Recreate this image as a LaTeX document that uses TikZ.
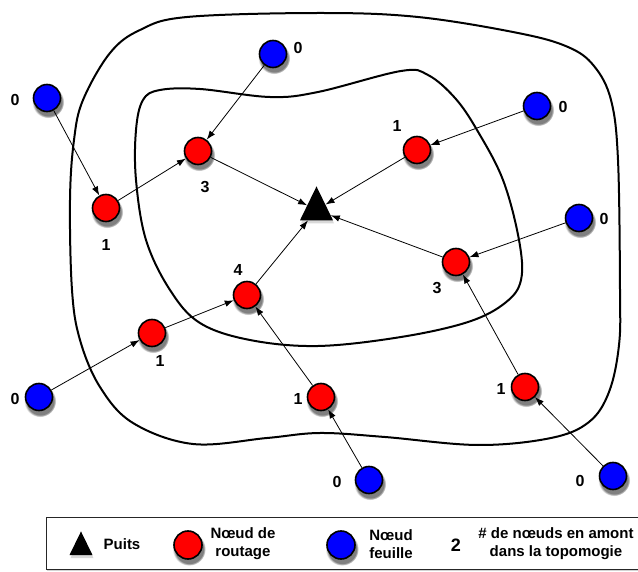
\documentclass[tikz,border=0pt]{standalone}
\usepackage{fontspec}
\setmainfont{Liberation Sans}
\usetikzlibrary{shapes.geometric,shadows,arrows.meta}
\begin{document}
\begin{tikzpicture}[x=1pt,y=-1pt,
  nd/.style={circle, draw=black, line width=1.6pt, minimum size=27pt, inner sep=0pt,
    circular drop shadow={shadow xshift=1pt, shadow yshift=-3.5pt, shadow scale=1.18}},
  route/.style={nd, fill=red},
  leaf/.style={nd, fill=blue},
  sinkshape/.style={isosceles triangle, isosceles triangle apex angle=52,
    shape border rotate=90, fill=black, inner sep=0pt, minimum width=#1, minimum height=#1,
    drop shadow={shadow xshift=1pt, shadow yshift=-3pt, opacity=0.3}},
  lab/.style={font=\fontsize{16}{16}\selectfont\bfseries, inner sep=0pt},
  legtext/.style={font=\fontsize{15}{18}\selectfont\bfseries, inner sep=0pt, align=center},
  edge/.style={line width=0.8pt, -{Latex[length=9pt,width=6.5pt]}},
  curve/.style={line width=2pt}
]
\useasboundingbox (0,0) rectangle (638,572);
% regions
\draw[curve] plot[smooth cycle, tension=0.6] coordinates {
 (83,100) (110,53) (140,30) (187,17) (320,13) (418,17) (518,33) (568,47) (594,66)
 (611,100) (618,160) (620,290) (619,345) (609,392) (589,422) (551,438) (478,445)
 (385,437) (320,433) (267,438) (193,444) (133,423) (100,387) (80,340) (72,290)
 (70,200) (74,140)};
\draw[curve] plot[smooth cycle, tension=0.6] coordinates {
 (143,100) (160,90) (200,89) (270,97) (318,92) (401,71) (428,75) (455,98) (477,130)
 (503,180) (519,240) (521,280) (505,303) (468,322) (401,337) (318,346) (250,340)
 (200,323) (170,290) (146,240) (136,180) (136,130)};
% sink
\node[sinkshape=33pt, anchor=apex] (S) at (316.5,186) {};
% routing nodes
\node[route] (R1) at (106,208) {};
\node[route] (R2) at (198,151) {};
\node[route] (R3) at (417,150) {};
\node[route] (R4) at (456,262) {};
\node[route] (R5) at (247,295) {};
\node[route] (R6) at (152,333) {};
\node[route] (R7) at (321,397) {};
\node[route] (R8) at (525,387) {};
% leaf nodes
\node[leaf] (B1) at (47,98) {};
\node[leaf] (B2) at (273,54) {};
\node[leaf] (B3) at (537,106) {};
\node[leaf] (B4) at (579,218) {};
\node[leaf] (B5) at (39,397) {};
\node[leaf] (B6) at (369,480) {};
\node[leaf] (B7) at (613,476) {};
% labels
\node[lab] (lB1) at (15,100) {0};
\node[lab] (lB2) at (298,48) {0};
\node[lab] (lB3) at (563,107) {0};
\node[lab] (lB4) at (604,219) {0};
\node[lab] (lB5) at (15,399) {0};
\node[lab] (lB6) at (337,482) {0};
\node[lab] (lB7) at (580,481) {0};
\node[lab] (lR1) at (106,245) {1};
\node[lab] (lR2) at (205,187) {3};
\node[lab] (lR3) at (397,126) {1};
\node[lab] (lR4) at (437,288) {3};
\node[lab] (lR5) at (238,270) {4};
\node[lab] (lR6) at (160,361) {1};
\node[lab] (lR7) at (298,399) {1};
\node[lab] (lR8) at (501,389) {1};
% connectors
\draw[edge] (B1) -- (R1);
\draw[edge] (R1) -- (R2);
\draw[edge] (B2) -- (R2);
\draw[edge] (R2) -- (S);
\draw[edge] (B3) -- (R3);
\draw[edge] (R3) -- (S);
\draw[edge] (B4) -- (R4);
\draw[edge] (R4) -- (S);
\draw[edge] (R5) -- (S);
\draw[edge] (R6) -- (R5);
\draw[edge] (B5) -- (R6);
\draw[edge] (R7) -- (R5);
\draw[edge] (B6) -- (R7);
\draw[edge] (R8) -- (R4);
\draw[edge] (B7) -- (R8);
% legend
\node[draw=black!85, line width=0.9pt, fill=white, minimum width=596pt, minimum height=52pt,
  inner sep=0pt, drop shadow={shadow xshift=1pt, shadow yshift=-2pt, opacity=0.35}] (L) at (344,543) {};
\node[sinkshape=23pt, anchor=apex] (LS) at (81,531) {};
\node[legtext] (LP) at (122,544) {Puits};
\node[route, minimum size=28pt] (LR) at (188,545) {};
\node[legtext] (LRt) at (243,544) {Nœud de\\routage};
\node[leaf, minimum size=28pt] (LB) at (341,545) {};
\node[legtext] (LBt) at (391,544) {Nœud\\feuille};
\node[font=\fontsize{18}{18}\selectfont\bfseries, inner sep=0pt] (L2) at (456,545) {2};
\node[legtext] (LDt) at (556,544) {\# de nœuds en amont\\dans la topomogie};
\end{tikzpicture}
\end{document}
